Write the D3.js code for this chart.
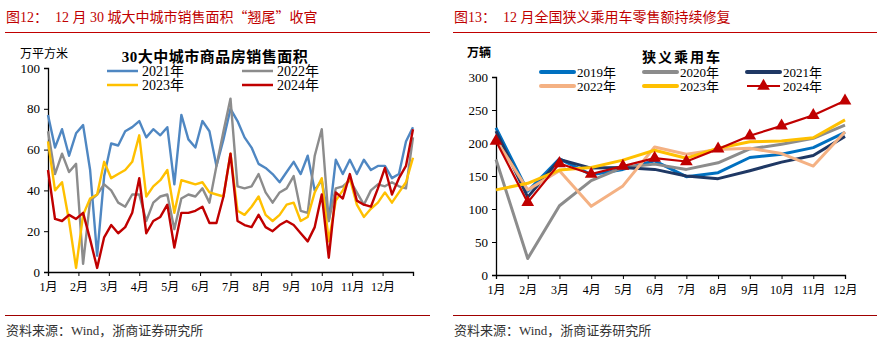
<!DOCTYPE html>
<html><head><meta charset="utf-8">
<script src="https://cdn.jsdelivr.net/npm/d3@7"></script>
<style>body{margin:0;background:#fff}svg{display:block}</style>
</head><body>
<svg id="c" width="888" height="350"></svg>
<script>
// ---------- Left chart data (weekly, 万平方米) ----------
const months = ["1月","2月","3月","4月","5月","6月","7月","8月","9月","10月","11月","12月"];
const leftYTicks = [0,20,40,60,80,100];
const s2021 = [77,61,70,57,68,72,50,8,47,63,62,69,71,74,66,70,67,71,43,77,65,61,74,69,52,65,80,74,66,61,53,51,48,44,49,54,48,57,40,45,25,55,48,55,48,55,50,52,52,46,48,64,71];
const s2022 = [69,48,58,49,53,4,35,38,43,40,34,32,38,38,25,34,37,38,21,36,38,37,41,34,52,69,85,42,41,42,48,39,34,39,41,47,30,29,57,70,25,41,42,45,39,33,40,43,42,44,42,41,66];
const s2023 = [64,40,44,25,2,28,36,38,54,46,48,50,54,67,37,42,45,50,29,45,44,43,44,39,38,37,58,30,28,32,37,28,25,28,33,34,25,27,39,46,15,35,40,46,33,27,31,34,39,34,39,44,56];
const s2024 = [50,26,25,28,26,29,16,2,17,23,19,22,29,46,19,25,27,33,12,29,29,30,32,24,24,37,58,25,23,22,28,22,20,23,25,23,19,15,22,38,7,39,36,48,35,33,32,41,51,38,46,52,70];
const leftSeries = [
  {name:"2021年", values:s2021, color:"#4F87C2"},
  {name:"2022年", values:s2022, color:"#8C8C8C"},
  {name:"2023年", values:s2023, color:"#FFC000"},
  {name:"2024年", values:s2024, color:"#C00000"}
];

// ---------- Right chart data (万辆) ----------
const rightYTicks = [0,50,100,150,200,250,300];
const r2019 = [223,127,176,152,160,173,149,155,178,183,193,216];
const r2020 = [175,25,105,143,163,168,160,170,191,198,207,227];
const r2021 = [218,118,175,162,163,160,150,146,158,171,181,210];
const r2022 = [205,129,158,104,135,194,183,190,192,184,165,217];
const r2023 = [129,139,159,163,174,189,177,192,202,203,208,235];
const r2024 = [203,110,169,153,165,177,172,191,211,226,242,264];
const rightSeries = [
  {name:"2019年", values:r2019, color:"#0070C0"},
  {name:"2020年", values:r2020, color:"#8C8C8C"},
  {name:"2021年", values:r2021, color:"#1F3864"},
  {name:"2022年", values:r2022, color:"#F4B183"},
  {name:"2023年", values:r2023, color:"#FFC000"},
  {name:"2024年", values:r2024, color:"#C00000", marker:true}
];

const svg = d3.select("#c");
const serif = "'Liberation Serif','Times New Roman','Noto Sans CJK SC',serif";
const cjk = "'Noto Sans CJK SC',sans-serif";
const red = "#C00000";

// ---------- Headers / footers ----------
function frame(x0, x1, parts){
  const t = svg.append("text").attr("x", x0+1).attr("y", 22).attr("fill", red)
    .attr("font-family", serif).attr("font-size", 14).attr("xml:space","preserve");
  parts.forEach(p => {
    const ts = t.append("tspan").text(p.t);
    if (p.cjk) ts.attr("font-family", cjk);
  });
  svg.append("line").attr("x1", x0).attr("x2", x1).attr("y1", 32.5).attr("y2", 32.5)
    .attr("stroke", red).attr("stroke-width", 1.2);
  svg.append("line").attr("x1", x0).attr("x2", x1).attr("y1", 315.5).attr("y2", 315.5)
    .attr("stroke", "#A00000").attr("stroke-width", 1);
  svg.append("text").attr("x", x0+1).attr("y", 335).attr("fill", "#333")
    .attr("font-family", serif).attr("font-size", 13).text("资料来源：Wind，浙商证券研究所");
}
frame(5, 430, [{t:"图12：  12 月 30 城大中城市销售面积"},{t:"“",cjk:true},{t:"翘尾"},{t:"”",cjk:true},{t:"收官"}]);
frame(453, 877, [{t:"图13：  12 月全国狭义乘用车零售额持续修复"}]);

// ---------- Left chart ----------
{
  const x = d3.scaleLinear().domain([0, s2021.length-1]).range([48, 413]);
  const xm = d3.scaleLinear().domain([0, 12]).range([48, 413]);
  const y = d3.scaleLinear().domain([0, 100]).range([272, 68]);
  const g = svg.append("g");
  const ya = g.append("g").attr("transform","translate(48,0)")
    .call(d3.axisLeft(y).tickValues(leftYTicks).tickSize(4).tickPadding(4));
  const xa = g.append("g").attr("transform","translate(0,272)")
    .call(d3.axisBottom(xm).tickValues(d3.range(13)).tickSize(4).tickPadding(6)
      .tickFormat(i => i < 12 ? months[i] : ""));
  [ya, xa].forEach(a => {
    a.select(".domain").attr("stroke","#000").attr("stroke-width",1.3);
    a.selectAll(".tick line").attr("stroke","#000");
    a.selectAll("text").attr("font-family", serif).attr("font-size", 13).attr("fill","#000");
  });
  xa.selectAll("text").attr("font-size", 12);
  const line = d3.line().x((d,i)=>x(i)).y(d=>y(d));
  leftSeries.forEach(s => {
    g.append("path").attr("d", line(s.values)).attr("fill","none")
      .attr("stroke", s.color).attr("stroke-width", 2.4).attr("stroke-linejoin","round");
  });
  g.append("text").attr("x", 20).attr("y", 58).attr("font-family", serif)
    .attr("font-size", 12).text("万平方米");
  g.append("text").attr("x", 215).attr("y", 62).attr("text-anchor","middle").attr("letter-spacing", 0.5)
    .attr("font-family", serif).attr("font-weight","bold").attr("font-size", 15).text("30大中城市商品房销售面积");
  const leg = [[107,71],[242,71],[107,85],[242,85]];
  leftSeries.forEach((s,i) => {
    const [lx, ly] = leg[i];
    g.append("line").attr("x1", lx).attr("x2", lx+31).attr("y1", ly).attr("y2", ly)
      .attr("stroke", s.color).attr("stroke-width", 2.5);
    g.append("text").attr("x", lx+35).attr("y", ly+5).attr("font-family", serif)
      .attr("font-size", 14).text(s.name);
  });
}

// ---------- Right chart ----------
{
  const x = d3.scalePoint().domain(months).range([496, 845]);
  const y = d3.scaleLinear().domain([0, 300]).range([275, 77]);
  const g = svg.append("g");
  const ya = g.append("g").attr("transform","translate(496,0)")
    .call(d3.axisLeft(y).tickValues(rightYTicks).tickSize(4).tickPadding(4));
  const xa = g.append("g").attr("transform","translate(0,275)")
    .call(d3.axisBottom(x).tickSize(4).tickPadding(6));
  [ya, xa].forEach(a => {
    a.select(".domain").attr("stroke","#000").attr("stroke-width",1.3);
    a.selectAll(".tick line").attr("stroke","#000");
    a.selectAll("text").attr("font-family", serif).attr("font-size", 13).attr("fill","#000");
  });
  xa.selectAll("text").attr("font-size", 12);
  const line = d3.line().x((d,i)=>x(months[i])).y(d=>y(d));
  const tri = d3.symbol().type(d3.symbolTriangle).size(70);
  rightSeries.forEach(s => {
    g.append("path").attr("d", line(s.values)).attr("fill","none")
      .attr("stroke", s.color).attr("stroke-width", s.marker ? 2.2 : 3).attr("stroke-linejoin","round");
    if (s.marker) {
      g.selectAll(null).data(s.values).enter().append("path")
        .attr("d", tri).attr("fill", s.color)
        .attr("transform", (d,i)=>`translate(${x(months[i])},${y(d)})`);
    }
  });
  g.append("text").attr("x", 467).attr("y", 57).attr("font-family", serif)
    .attr("font-weight","bold").attr("font-size", 12).text("万辆");
  g.append("text").attr("x", 682).attr("y", 62).attr("text-anchor","middle").attr("letter-spacing", 2)
    .attr("font-family", serif).attr("font-weight","bold").attr("font-size", 14).text("狭义乘用车");
  const cols = [541, 644, 747], rows = [72, 86];
  rightSeries.forEach((s,i) => {
    const lx = cols[i % 3], ly = rows[Math.floor(i/3)];
    g.append("line").attr("x1", lx).attr("x2", lx+33).attr("y1", ly).attr("y2", ly)
      .attr("stroke", s.color).attr("stroke-width", s.marker ? 2 : 4).attr("stroke-linecap", s.marker ? "butt" : "round");
    if (s.marker) g.append("path").attr("d", tri).attr("fill", s.color)
      .attr("transform", `translate(${lx+16.5},${ly})`);
    g.append("text").attr("x", lx+36).attr("y", ly+4.5).attr("font-family", serif)
      .attr("font-size", 13).text(s.name);
  });
}
</script>
</body></html>
